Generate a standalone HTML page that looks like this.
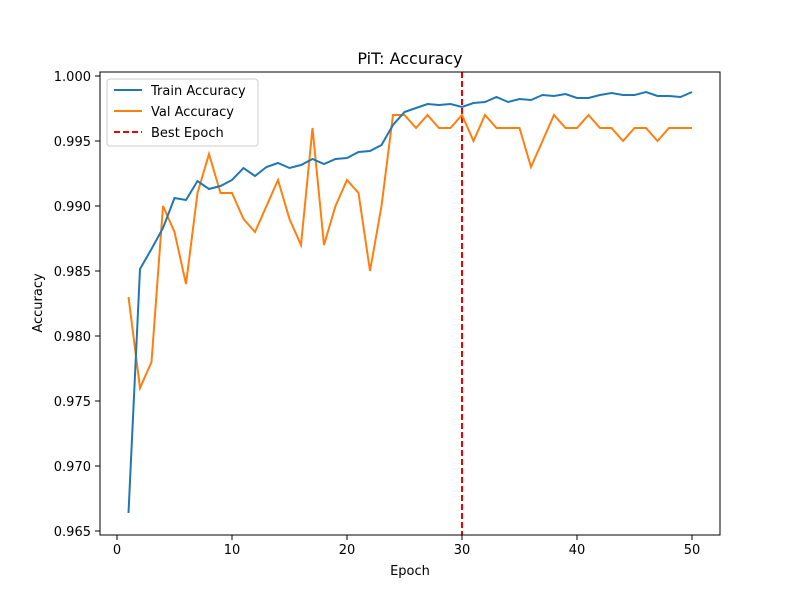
<!DOCTYPE html>
<html><head><meta charset="utf-8"><style>
body{margin:0;background:#fff}
svg{display:block;font-family:"DejaVu Sans","Liberation Sans",sans-serif}
</style></head><body>
<svg id="s" width="800" height="600" xmlns="http://www.w3.org/2000/svg">
<rect width="800" height="600" fill="#fff"/>
<text x="410" y="64" font-size="16" text-anchor="middle">PiT: Accuracy</text>
<g id="ticks" font-size="13" fill="#000"></g>
<line x1="462" y1="72" x2="462" y2="535" stroke="#e00" stroke-width="2" stroke-dasharray="6,3"/>
<polyline id="val" fill="none" stroke="#ff7f0e" stroke-width="2"/>
<polyline id="tr" fill="none" stroke="#1f77b4" stroke-width="2"/>
<rect x="100" y="72" width="620" height="463" fill="none" stroke="#000" stroke-width="1"/>
<text x="410" y="575" font-size="13" text-anchor="middle">Epoch</text>
<text transform="translate(42,303) rotate(-90)" font-size="13" text-anchor="middle">Accuracy</text>
<g>
<rect x="107" y="79" width="151" height="67" rx="3" fill="#fff" stroke="#ccc"/>
<line x1="114" y1="90" x2="142" y2="90" stroke="#1f77b4" stroke-width="2"/>
<text x="151" y="95" font-size="13">Train Accuracy</text>
<line x1="114" y1="111" x2="142" y2="111" stroke="#ff7f0e" stroke-width="2"/>
<text x="151" y="116" font-size="13">Val Accuracy</text>
<line x1="114" y1="132" x2="142" y2="132" stroke="#e00" stroke-width="2" stroke-dasharray="6,3"/>
<text x="151" y="137" font-size="13">Best Epoch</text>
</g>
</svg>
<script>
var X=e=>117+11.5*e, Y=v=>76+(1-v)*13000;
var tr=[513,269,249,228,198,200,181,189,186,180,168,176,167,163,168,165,159,164,159,158,152,151,145,125,112,108,104,105,104,107,103,102,97,102,99,100,95,96,94,98,98,95,93,95,95,92,96,96,97,92];
var va=[.983,.976,.978,.990,.988,.984,.991,.994,.991,.991,.989,.988,.990,.992,.989,.987,.996,.987,.990,.992,.991,.985,.990,.997,.997,.996,.997,.996,.996,.997,.995,.997,.996,.996,.996,.993,.995,.997,.996,.996,.997,.996,.996,.995,.996,.996,.995,.996,.996,.996];
document.getElementById('tr').setAttribute('points',tr.map((y,i)=>X(i+1)+','+y).join(' '));
document.getElementById('val').setAttribute('points',va.map((v,i)=>X(i+1)+','+Y(v).toFixed(1)).join(' '));
var g=document.getElementById('ticks'),h='';
[0,10,20,30,40,50].forEach(e=>{var x=X(e);h+=`<line x1="${x}" y1="535" x2="${x}" y2="540" stroke="#000"/><text x="${x}" y="554" text-anchor="middle">${e}</text>`;});
[0.965,0.970,0.975,0.980,0.985,0.990,0.995,1.000].forEach(v=>{var y=Y(v);h+=`<line x1="95" y1="${y}" x2="100" y2="${y}" stroke="#000"/><text x="91" y="${y+5}" text-anchor="end">${v.toFixed(3)}</text>`;});
g.innerHTML=h;
</script>
</body></html>
